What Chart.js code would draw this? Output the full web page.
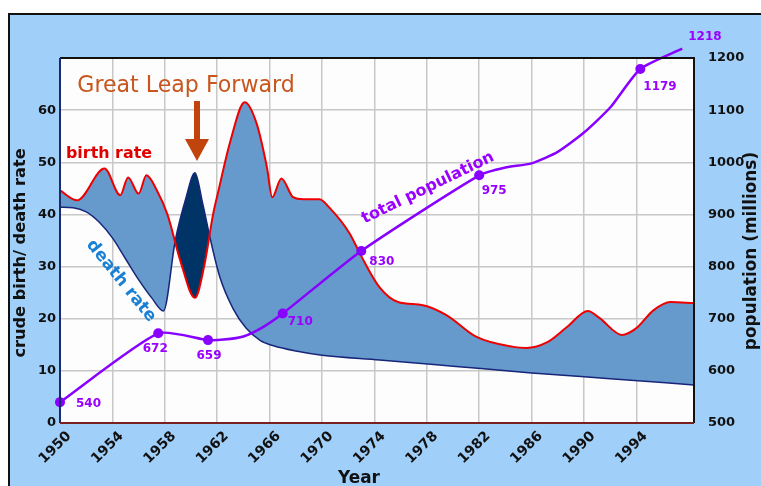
<!DOCTYPE html>
<html>
<head>
<meta charset="utf-8">
<script src="https://cdn.jsdelivr.net/npm/chart.js@4.4.0/dist/chart.umd.min.js"></script>
<style>
html, body { margin: 0; padding: 0; background: #fff; }
#wrap { width: 761px; height: 486px; }
</style>
</head>
<body>
<div id="wrap"><canvas id="myChart"></canvas></div>
<script>
// values
var yearTicks = [1950, 1954, 1958, 1962, 1966, 1970, 1974, 1978, 1982, 1986, 1990, 1994];
var birthYears = [1950, 1951.3, 1953.4, 1954.6, 1955.2, 1956, 1956.6, 1957.4, 1958.2, 1959.2, 1960.3, 1961, 1961.7, 1962.1, 1963, 1964.1, 1965, 1965.8, 1966.2, 1966.9, 1967.8, 1968.6, 1969.8, 1970.6, 1972.1, 1973, 1974.4, 1975.8, 1977.7, 1979.5, 1981.8, 1984.6, 1985.6, 1987.2, 1988.7, 1990.3, 1991.2, 1992.9, 1994, 1995.3, 1996.6, 1998.4];
var birthRate = [44.6, 42.7, 48.8, 43.7, 47.1, 44, 47.5, 44.6, 40, 31, 24, 30, 40.2, 44.6, 54, 61.5, 57.5, 49, 43.3, 46.9, 43.3, 42.9, 42.9, 41.2, 36.4, 32, 26, 23.2, 22.6, 20.7, 16.5, 14.6, 14.4, 15.5, 18.4, 21.5, 20.1, 16.9, 18.2, 21.6, 23.2, 23];
var deathYears = [1950, 1951, 1952, 1953, 1954, 1955, 1956, 1957, 1957.9, 1958.8, 1959.6, 1960.3, 1960.9, 1961.5, 1962.2, 1963.2, 1964.2, 1965.3, 1966.3, 1968, 1970, 1974.4, 1980, 1986, 1992, 1998.4];
var deathRate = [41.4, 41.3, 40.5, 38.5, 35.5, 31.5, 27.5, 24, 21.5, 35, 43, 48, 42, 35, 28, 22, 18.2, 15.8, 14.8, 13.8, 13, 12.1, 10.9, 9.6, 8.5, 7.3];
var popYears = [1950, 1957.5, 1961.3, 1962.5, 1964, 1965.5, 1967, 1973, 1982, 1984, 1986, 1988, 1990, 1992, 1994.3, 1997.5];
var popValues = [540, 672, 659, 660, 666, 684, 710, 830, 975, 990, 998, 1020, 1057, 1105, 1179, 1218];
var popLabels = ['540', '672', '659', '', '', '', '710', '830', '975', '', '', '', '', '', '1179', '1218'];

// label placement relative to each labelled marker: dx, dy, align
var popLabelPos = {
    '540': [16, 2, 'left'], '672': [-3, 16, 'center'], '659': [1, 16, 'center'],
    '710': [5, 8, 'left'], '830': [8, 11, 'left'], '975': [15, 16, 'center'],
    '1179': [3, 18, 'left'], '1218': [6, -12, 'left']
};

function pts(xs, ys) {
    return xs.map(function (x, i) { return { x: x, y: ys[i] }; });
}

var tickFont = { family: 'DejaVu Sans', weight: 'bold', size: 13 };

function fitText(ctx, text, weight, family, width) {
    ctx.font = weight + ' 20px "' + family + '"';
    var size = 20 * width / ctx.measureText(text).width;
    ctx.font = weight + ' ' + size.toFixed(1) + 'px "' + family + '"';
}

function drawText(ctx, text, x, y, angle, color, weight, family, width) {
    ctx.save();
    ctx.translate(x, y);
    ctx.rotate(angle * Math.PI / 180);
    fitText(ctx, text, weight, family, width);
    ctx.fillStyle = color;
    ctx.textAlign = 'center';
    ctx.textBaseline = 'middle';
    ctx.fillText(text, 0, 0);
    ctx.restore();
}

var decor = {
    id: 'decor',
    beforeDraw: function (chart) {
        var c = chart.ctx, a = chart.chartArea;
        c.save();
        c.fillStyle = '#ffffff';
        c.fillRect(0, 0, chart.width, chart.height);
        c.fillStyle = '#a0cff9';
        c.fillRect(8, 13, chart.width - 8, chart.height - 13);
        c.strokeStyle = '#111';
        c.lineWidth = 2;
        c.beginPath();
        c.moveTo(9, chart.height);
        c.lineTo(9, 14);
        c.lineTo(chart.width, 14);
        c.stroke();
        c.fillStyle = '#fdfdfd';
        c.fillRect(a.left, a.top, a.right - a.left, a.bottom - a.top);
        c.restore();
    },
    afterDraw: function (chart) {
        var c = chart.ctx, a = chart.chartArea;
        c.save();
        // plot frame
        c.lineWidth = 2;
        c.strokeStyle = '#111';
        c.beginPath();
        c.moveTo(a.left, a.top); c.lineTo(a.right, a.top); c.lineTo(a.right, a.bottom);
        c.stroke();
        c.strokeStyle = '#1a2a6a';
        c.beginPath();
        c.moveTo(a.left, a.top); c.lineTo(a.left, a.bottom);
        c.stroke();
        c.strokeStyle = '#7a2020';
        c.beginPath();
        c.moveTo(a.left, a.bottom); c.lineTo(a.right, a.bottom);
        c.stroke();

        // population labels
        var meta = chart.getDatasetMeta(2);
        c.font = 'bold 12px "DejaVu Sans"';
        c.fillStyle = '#9a00ff';
        c.textBaseline = 'middle';
        meta.data.forEach(function (p, i) {
            var pos = popLabelPos[popLabels[i]];
            if (!pos) return;
            c.textAlign = pos[2];
            c.fillText(popLabels[i], p.x + pos[0], p.y + pos[1]);
        });

        // annotations
        drawText(c, 'Great Leap Forward', 186, 86, 0, '#c8561e', 'normal', 'DejaVu Sans', 218);
        c.fillStyle = '#c0440c';
        c.fillRect(194, 101, 6, 40);
        c.beginPath();
        c.moveTo(185, 139); c.lineTo(209, 139); c.lineTo(197, 161);
        c.closePath();
        c.fill();
        drawText(c, 'birth rate', 109, 154, 0, '#e00000', 'bold', 'DejaVu Sans', 86);
        drawText(c, 'death rate', 121, 281, 51, '#1a80d4', 'bold', 'DejaVu Sans', 100);
        drawText(c, 'total population', 428, 188, -26, '#9a00ff', 'bold', 'DejaVu Sans', 145);

        // axis titles
        drawText(c, 'crude birth/ death rate', 21, 253, -90, '#111', 'bold', 'DejaVu Sans', 210);
        drawText(c, 'population (millions)', 752, 251, -90, '#111', 'bold', 'DejaVu Sans', 198);
        drawText(c, 'Year', 359, 479, 0, '#111', 'bold', 'DejaVu Sans', 42);
        c.restore();
    }
};

var ctx = document.getElementById('myChart').getContext('2d');
var myChart = new Chart(ctx, {
    type: 'line',
    data: {
        datasets: [{
            label: 'birth rate',
            data: pts(birthYears, birthRate),
            yAxisID: 'y',
            borderColor: '#ee0000',
            borderWidth: 2,
            pointRadius: 0,
            cubicInterpolationMode: 'monotone',
            fill: { target: 1, above: '#6699cc', below: '#003366' },
            order: 1
        }, {
            label: 'death rate',
            data: pts(deathYears, deathRate),
            yAxisID: 'y',
            borderColor: '#18267a',
            borderWidth: 1.5,
            pointRadius: 0,
            cubicInterpolationMode: 'monotone',
            fill: false,
            order: 2
        }, {
            label: 'total population',
            data: pts(popYears, popValues),
            yAxisID: 'y2',
            borderColor: '#8800ff',
            borderWidth: 2.5,
            pointRadius: popLabels.map(function (l) { return l ? 5 : 0; }),
            pointBackgroundColor: '#8800ff',
            pointBorderWidth: 0,
            tension: 0.2,
            clip: false,
            fill: false,
            order: 0
        }]
    },
    options: {
        responsive: true,
        maintainAspectRatio: false,
        animation: false,
        layout: { padding: { top: 58, left: 0, right: 0, bottom: 0 } },
        plugins: {
            legend: { display: false },
            tooltip: { enabled: false },
            filler: { drawTime: 'beforeDatasetsDraw' }
        },
        scales: {
            x: {
                type: 'linear',
                position: 'bottom',
                min: 1950,
                max: 1998.4,
                afterBuildTicks: function (s) {
                    s.ticks = yearTicks.map(function (v) { return { value: v }; });
                },
                afterFit: function (s) { s.height = 63; },
                ticks: {
                    minRotation: 45,
                    maxRotation: 45,
                    autoSkip: false,
                    color: '#111',
                    font: { family: 'DejaVu Sans', weight: 'bold', size: 14 },
                    padding: 5,
                    labelOffset: 9,
                    callback: function (v) { return String(v); }
                },
                grid: { color: '#c8c8c8', lineWidth: 1.5, drawTicks: false },
                border: { display: false }
            },
            y: {
                position: 'left',
                min: 0,
                max: 70,
                afterFit: function (s) { s.width = 60; },
                ticks: {
                    stepSize: 10,
                    color: '#111',
                    font: tickFont,
                    padding: 4,
                    callback: function (v) { return v === 70 ? '' : String(v); }
                },
                grid: { color: '#c8c8c8', lineWidth: 1.5, drawTicks: false },
                border: { display: false }
            },
            y2: {
                position: 'right',
                min: 500,
                max: 1200,
                afterFit: function (s) { s.width = 67; },
                ticks: {
                    stepSize: 100,
                    color: '#111',
                    font: tickFont,
                    padding: 6,
                    callback: function (v) { return String(v); }
                },
                grid: { display: false },
                border: { display: false }
            }
        }
    },
    plugins: [decor]
});
</script>
</body>
</html>
